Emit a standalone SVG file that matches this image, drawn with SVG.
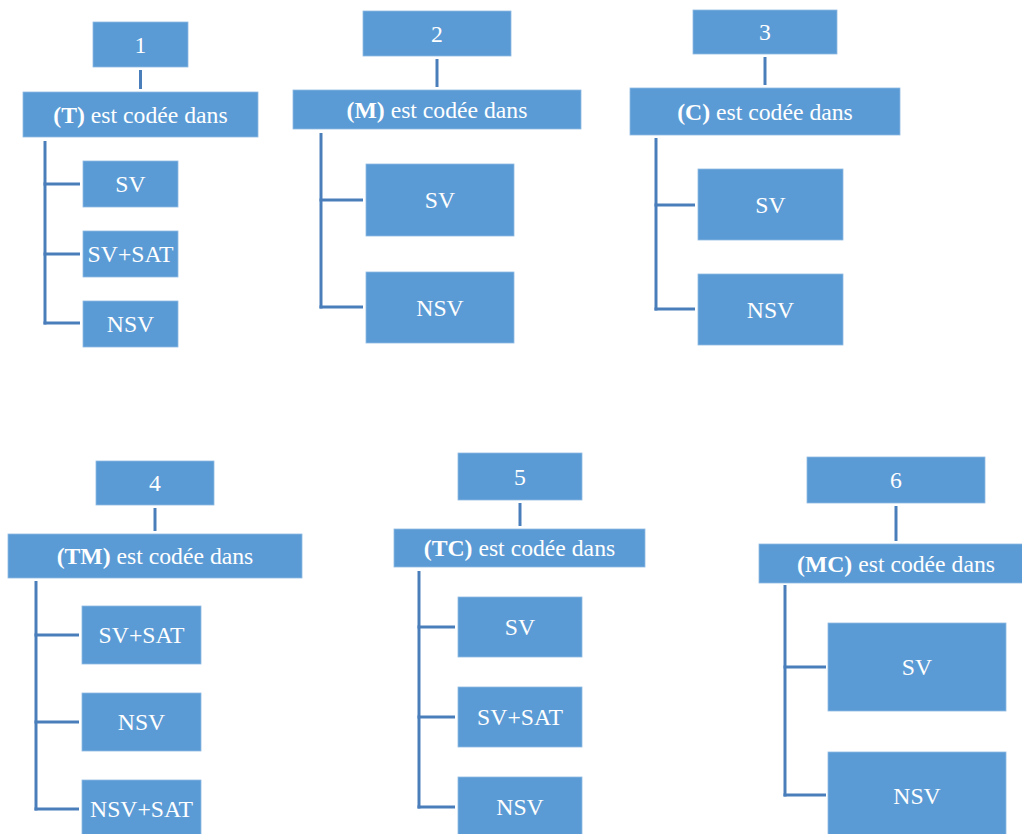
<svg xmlns="http://www.w3.org/2000/svg" width="1022" height="834" viewBox="0 0 1022 834">
<style>
rect{fill:#5B9BD5;stroke:#8FB9E3;stroke-width:0.8}
text{font-family:"Liberation Serif","Times New Roman",serif;font-size:23.7px;fill:#ffffff;text-anchor:middle}
.b{font-weight:bold}
.con line{stroke:#4A7EBB;stroke-width:3;fill:none}
</style>
<rect x="0" y="0" width="1022" height="834" style="fill:#ffffff;stroke:none"/>
<g id="connectors" class="con">
<line x1="140.5" y1="70" x2="140.5" y2="89"/>
<line x1="45" y1="141" x2="45" y2="324.5"/>
<line x1="43.5" y1="184" x2="80" y2="184"/>
<line x1="43.5" y1="254" x2="80" y2="254"/>
<line x1="43.5" y1="323" x2="80" y2="323"/>
<line x1="437" y1="59" x2="437" y2="87"/>
<line x1="321" y1="133" x2="321" y2="308.5"/>
<line x1="319.5" y1="200" x2="363" y2="200"/>
<line x1="319.5" y1="307" x2="363" y2="307"/>
<line x1="765" y1="57" x2="765" y2="85"/>
<line x1="656" y1="138" x2="656" y2="310.5"/>
<line x1="654.5" y1="205" x2="695" y2="205"/>
<line x1="654.5" y1="309" x2="695" y2="309"/>
<line x1="155" y1="508" x2="155" y2="531"/>
<line x1="36" y1="581" x2="36" y2="810.5"/>
<line x1="34.5" y1="635" x2="79" y2="635"/>
<line x1="34.5" y1="722" x2="79" y2="722"/>
<line x1="34.5" y1="809" x2="79" y2="809"/>
<line x1="520" y1="503" x2="520" y2="526"/>
<line x1="419" y1="571" x2="419" y2="808.5"/>
<line x1="417.5" y1="627" x2="455" y2="627"/>
<line x1="417.5" y1="717" x2="455" y2="717"/>
<line x1="417.5" y1="807" x2="455" y2="807"/>
<line x1="896" y1="506" x2="896" y2="541"/>
<line x1="785" y1="585" x2="785" y2="796.5"/>
<line x1="783.5" y1="667" x2="826" y2="667"/>
<line x1="783.5" y1="795" x2="826" y2="795"/>
</g>
<g id="n1"><rect x="93" y="22" width="95" height="45"/><text x="140.5" y="52.5">1</text></g>
<g id="h1"><rect x="23" y="92" width="235" height="45"/><text x="140.5" y="122.5"><tspan class="b">(T)</tspan> est codée dans</text></g>
<g id="n1a"><rect x="83" y="161" width="95" height="46"/><text x="130.5" y="192">SV</text></g>
<g id="n1b"><rect x="83" y="231" width="95" height="46"/><text x="130.5" y="262">SV+SAT</text></g>
<g id="n1c"><rect x="83" y="301" width="95" height="46"/><text x="130.5" y="332">NSV</text></g>
<g id="n2"><rect x="363" y="11" width="148" height="45"/><text x="437" y="41.5">2</text></g>
<g id="h2"><rect x="293" y="90" width="288" height="39"/><text x="437" y="117.5"><tspan class="b">(M)</tspan> est codée dans</text></g>
<g id="n2a"><rect x="366" y="164" width="148" height="72"/><text x="440" y="208">SV</text></g>
<g id="n2b"><rect x="366" y="272" width="148" height="71"/><text x="440" y="315.5">NSV</text></g>
<g id="n3"><rect x="693" y="10" width="144" height="44"/><text x="765" y="40">3</text></g>
<g id="h3"><rect x="630" y="88" width="270" height="47"/><text x="765" y="119.5"><tspan class="b">(C)</tspan> est codée dans</text></g>
<g id="n3a"><rect x="698" y="169" width="145" height="71"/><text x="770.5" y="212.5">SV</text></g>
<g id="n3b"><rect x="698" y="274" width="145" height="71"/><text x="770.5" y="317.5">NSV</text></g>
<g id="n4"><rect x="96" y="461" width="118" height="44"/><text x="155" y="491">4</text></g>
<g id="h4"><rect x="8" y="534" width="294" height="44"/><text x="155" y="564"><tspan class="b">(TM)</tspan> est codée dans</text></g>
<g id="n4a"><rect x="82" y="606" width="119" height="58"/><text x="141.5" y="643">SV+SAT</text></g>
<g id="n4b"><rect x="82" y="693" width="119" height="58"/><text x="141.5" y="730">NSV</text></g>
<g id="n4c"><rect x="82" y="780" width="119" height="60"/><text x="141.5" y="817">NSV+SAT</text></g>
<g id="n5"><rect x="458" y="453" width="124" height="47"/><text x="520" y="484.5">5</text></g>
<g id="h5"><rect x="394" y="529" width="251" height="38"/><text x="519.5" y="556"><tspan class="b">(TC)</tspan> est codée dans</text></g>
<g id="n5a"><rect x="458" y="597" width="124" height="60"/><text x="520" y="635">SV</text></g>
<g id="n5b"><rect x="458" y="687" width="124" height="60"/><text x="520" y="725">SV+SAT</text></g>
<g id="n5c"><rect x="458" y="777" width="124" height="60"/><text x="520" y="815">NSV</text></g>
<g id="n6"><rect x="807" y="457" width="178" height="46"/><text x="896" y="488">6</text></g>
<g id="h6"><rect x="759" y="544" width="266" height="39"/><text x="896" y="571.5"><tspan class="b">(MC)</tspan> est codée dans</text></g>
<g id="n6a"><rect x="828" y="623" width="178" height="88"/><text x="917" y="675">SV</text></g>
<g id="n6b"><rect x="828" y="752" width="178" height="88"/><text x="917" y="804">NSV</text></g>
</svg>
